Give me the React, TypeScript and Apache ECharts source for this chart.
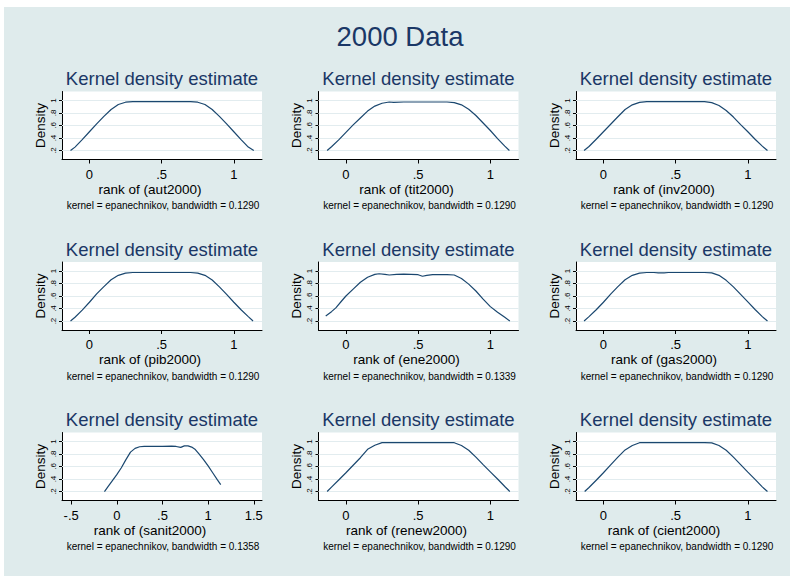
import React, { useEffect, useRef } from "react";
import * as echarts from "echarts";

const mainTitle = "2000 Data";
const panelTitle = "Kernel density estimate";
const yName = "Density";
const varNames = ["aut2000", "tit2000", "inv2000", "pib2000", "ene2000", "gas2000", "sanit2000", "renew2000", "cient2000"];
const bandwidths = ["0.1290", "0.1290", "0.1290", "0.1290", "0.1339", "0.1290", "0.1358", "0.1290", "0.1290"];
const yTicks = [0.2, 0.4, 0.6, 0.8, 1];
const xTicksStd = [0, 0.5, 1];
const xTicksWide = [-0.5, 0, 0.5, 1, 1.5];

const aut2000 = [[-0.131, 0.2], [-0.1, 0.255], [-0.05, 0.375], [0, 0.5], [0.05, 0.625], [0.1, 0.745], [0.15, 0.855], [0.2, 0.935], [0.25, 0.972], [0.3, 0.982], [0.4, 0.982], [0.5, 0.982], [0.6, 0.982], [0.7, 0.982], [0.75, 0.972], [0.8, 0.935], [0.85, 0.855], [0.9, 0.745], [0.95, 0.625], [1, 0.5], [1.05, 0.375], [1.1, 0.255], [1.138, 0.2]];
const tit2000 = [[-0.13, 0.2], [-0.1, 0.26], [-0.05, 0.37], [0, 0.49], [0.05, 0.61], [0.1, 0.72], [0.15, 0.83], [0.2, 0.91], [0.25, 0.955], [0.3, 0.975], [0.33, 0.97], [0.4, 0.975], [0.5, 0.975], [0.6, 0.975], [0.7, 0.975], [0.75, 0.965], [0.8, 0.93], [0.85, 0.86], [0.9, 0.76], [0.95, 0.64], [1, 0.52], [1.05, 0.39], [1.1, 0.27], [1.132, 0.2]];
const inv2000 = [[-0.134, 0.2], [-0.1, 0.265], [-0.05, 0.38], [0, 0.5], [0.05, 0.62], [0.1, 0.74], [0.15, 0.855], [0.2, 0.93], [0.25, 0.97], [0.3, 0.98], [0.4, 0.98], [0.5, 0.98], [0.6, 0.98], [0.7, 0.98], [0.75, 0.965], [0.8, 0.92], [0.85, 0.84], [0.9, 0.735], [0.95, 0.615], [1, 0.5], [1.05, 0.38], [1.1, 0.27], [1.136, 0.2]];
const pib2000 = [[-0.131, 0.2], [-0.1, 0.26], [-0.05, 0.375], [0, 0.5], [0.05, 0.635], [0.1, 0.75], [0.15, 0.86], [0.2, 0.93], [0.25, 0.965], [0.3, 0.975], [0.4, 0.975], [0.5, 0.975], [0.6, 0.975], [0.7, 0.975], [0.75, 0.965], [0.8, 0.93], [0.85, 0.855], [0.9, 0.745], [0.95, 0.625], [1, 0.5], [1.05, 0.38], [1.1, 0.27], [1.133, 0.2]];
const ene2000 = [[-0.14, 0.28], [-0.1, 0.35], [-0.07, 0.41], [-0.03, 0.52], [0, 0.6], [0.05, 0.71], [0.1, 0.82], [0.15, 0.9], [0.2, 0.945], [0.23, 0.955], [0.27, 0.945], [0.3, 0.935], [0.35, 0.945], [0.4, 0.95], [0.45, 0.945], [0.5, 0.94], [0.53, 0.915], [0.56, 0.93], [0.6, 0.94], [0.65, 0.94], [0.7, 0.94], [0.75, 0.935], [0.8, 0.88], [0.85, 0.79], [0.9, 0.68], [0.95, 0.55], [1, 0.43], [1.05, 0.34], [1.1, 0.26], [1.135, 0.2]];
const gas2000 = [[-0.134, 0.2], [-0.1, 0.27], [-0.05, 0.38], [0, 0.5], [0.05, 0.63], [0.1, 0.75], [0.15, 0.86], [0.2, 0.93], [0.25, 0.965], [0.3, 0.975], [0.35, 0.975], [0.38, 0.968], [0.42, 0.97], [0.45, 0.975], [0.5, 0.975], [0.6, 0.975], [0.7, 0.975], [0.75, 0.97], [0.8, 0.93], [0.85, 0.85], [0.9, 0.745], [0.95, 0.625], [1, 0.505], [1.05, 0.385], [1.1, 0.27], [1.136, 0.2]];
const sanit2000 = [[-0.135, 0.2], [-0.1, 0.27], [-0.05, 0.37], [0, 0.47], [0.05, 0.58], [0.1, 0.71], [0.15, 0.83], [0.2, 0.89], [0.25, 0.915], [0.3, 0.92], [0.4, 0.92], [0.5, 0.92], [0.6, 0.925], [0.65, 0.92], [0.7, 0.905], [0.74, 0.93], [0.78, 0.93], [0.82, 0.91], [0.86, 0.87], [0.9, 0.8], [0.95, 0.71], [1, 0.61], [1.05, 0.5], [1.1, 0.39], [1.138, 0.31]];
const renew2000 = [[-0.13, 0.2], [-0.1, 0.27], [-0.05, 0.385], [0, 0.5], [0.05, 0.62], [0.1, 0.74], [0.15, 0.875], [0.2, 0.94], [0.25, 0.982], [0.3, 0.982], [0.4, 0.982], [0.5, 0.982], [0.6, 0.982], [0.7, 0.982], [0.75, 0.98], [0.8, 0.935], [0.85, 0.86], [0.9, 0.75], [0.95, 0.63], [1, 0.515], [1.05, 0.4], [1.1, 0.28], [1.135, 0.2]];
const cient2000 = [[-0.13, 0.2], [-0.1, 0.265], [-0.05, 0.38], [0, 0.5], [0.05, 0.625], [0.1, 0.75], [0.15, 0.865], [0.2, 0.935], [0.25, 0.98], [0.3, 0.982], [0.4, 0.982], [0.5, 0.982], [0.6, 0.982], [0.7, 0.982], [0.75, 0.978], [0.8, 0.935], [0.85, 0.86], [0.9, 0.75], [0.95, 0.63], [1, 0.51], [1.05, 0.395], [1.1, 0.275], [1.136, 0.2]];

const seriesData = [aut2000, tit2000, inv2000, pib2000, ene2000, gas2000, sanit2000, renew2000, cient2000];

const COL_LEFT = [62, 318.5, 576];
const ROW_TOP = [91.5, 262, 432.5];
const PW = 200;
const PH = 68;
const FONT = "'Liberation Sans', Arial, sans-serif";
const NAVY = "#1a3766";
const LINE = "#1a476f";
const BG = "#dfebec";

const fmt = (v: number) => {
  const s = String(+Number(v).toFixed(2));
  return s.replace(/^(-?)0\./, "$1.");
};

export default function App() {
  const ref = useRef<HTMLDivElement>(null);
  useEffect(() => {
    if (!ref.current) return;
    const chart = echarts.init(ref.current, null, { renderer: "svg" });
    const grids: any[] = [];
    const xAxes: any[] = [];
    const yAxes: any[] = [];
    const series: any[] = [];
    const graphics: any[] = [
      { type: "rect", shape: { x: 0, y: 0, width: 790, height: 7 }, style: { fill: "#fff" }, z: 1 },
      { type: "rect", shape: { x: 0, y: 0, width: 4, height: 576 }, style: { fill: "#fff" }, z: 1 },
      {
        type: "text", x: 400, y: 36, z: 10,
        style: { text: mainTitle, fill: NAVY, font: `27.5px ${FONT}`, textAlign: "center", textVerticalAlign: "middle" },
      },
    ];
    seriesData.forEach((data, i) => {
      const r = Math.floor(i / 3);
      const c = i % 3;
      const left = COL_LEFT[c];
      const top = ROW_TOP[r];
      const wide = varNames[i] === "sanit2000";
      const xt = wide ? xTicksWide : xTicksStd;
      grids.push({ left, top, width: PW, height: PH, show: true, backgroundColor: "#fff", borderWidth: 0, containLabel: false });
      xAxes.push({
        type: "value", gridIndex: i,
        min: wide ? -0.6 : -0.19, max: wide ? 1.59 : 1.195,
        axisLine: { show: true, onZero: false, lineStyle: { color: "#000", width: 1 } },
        axisTick: { show: true, length: 4, customValues: xt, lineStyle: { color: "#000" } },
        axisLabel: { customValues: xt, formatter: fmt, fontSize: 13, fontFamily: FONT, color: "#000", margin: 8 },
        splitLine: { show: false },
      });
      yAxes.push({
        type: "value", gridIndex: i, min: 0.057, max: 1.143,
        axisLine: { show: true, onZero: false, lineStyle: { color: "#000", width: 1 } },
        axisTick: { show: true, length: 3, customValues: yTicks, lineStyle: { color: "#000" } },
        axisLabel: { customValues: yTicks, formatter: fmt, fontSize: 8, fontFamily: FONT, color: "#000", rotate: 90, margin: 5 },
        splitLine: { show: false },
      });
      series.push({
        type: "line", xAxisIndex: i, yAxisIndex: i, data, showSymbol: false, symbol: "none",
        lineStyle: { color: LINE, width: 1.2 }, z: 5,
        markLine: {
          silent: true, symbol: ["none", "none"], label: { show: false }, z: 3,
          lineStyle: { color: "#e2ecef", width: 1, type: "solid" },
          data: yTicks.map((v) => ({ yAxis: v })),
        },
      });
      const cx = left + PW / 2;
      graphics.push(
        { type: "text", x: cx, y: top - 13, z: 10, style: { text: panelTitle, fill: NAVY, font: `18.5px ${FONT}`, textAlign: "center", textVerticalAlign: "middle" } },
        { type: "text", x: left - 21.7, y: top + PH / 2, rotation: Math.PI / 2, z: 10, style: { text: yName, fill: "#000", font: `13.5px ${FONT}`, textAlign: "center", textVerticalAlign: "middle" } },
        { type: "text", x: cx - 12, y: top + PH + 29.5, z: 10, style: { text: `rank of (${varNames[i]})`, fill: "#000", font: `13.5px ${FONT}`, textAlign: "center", textVerticalAlign: "middle" } },
        { type: "text", x: cx + 1, y: top + PH + 46, z: 10, style: { text: `kernel = epanechnikov, bandwidth = ${bandwidths[i]}`, fill: "#000", font: `10px ${FONT}`, textAlign: "center", textVerticalAlign: "middle" } },
      );
    });
    chart.setOption({
      animation: false,
      backgroundColor: BG,
      grid: grids,
      xAxis: xAxes,
      yAxis: yAxes,
      series,
      graphic: { elements: graphics },
    });
    return () => chart.dispose();
  }, []);
  return <div ref={ref} style={{ position: "absolute", left: 0, top: 0, width: 790, height: 576 }} />;
}
